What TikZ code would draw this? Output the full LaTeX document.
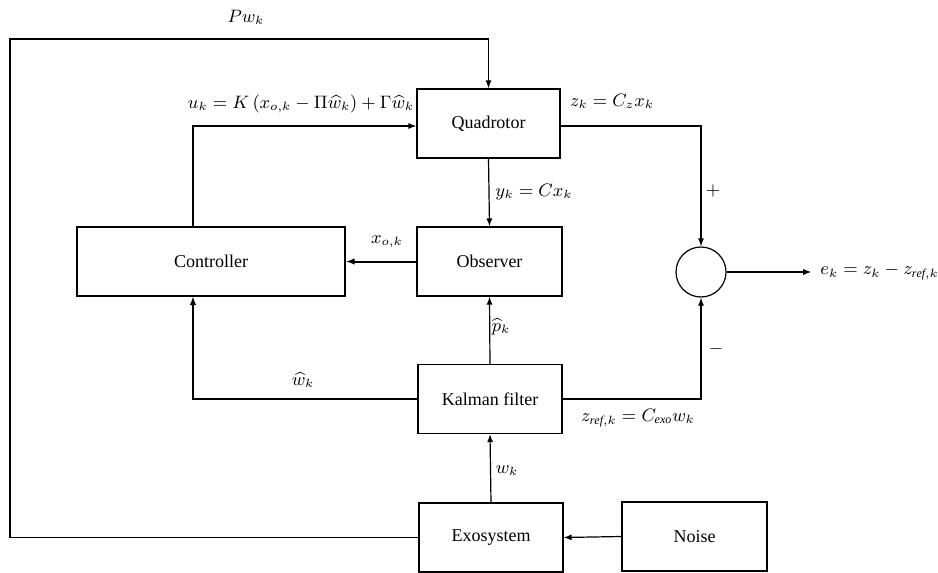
\documentclass[tikz,border=0pt]{standalone}
\usepackage{amsmath,amssymb}
\usepackage{fontspec}
\setmainfont{Liberation Serif}
\usetikzlibrary{positioning,arrows.meta,calc}

\begin{document}
\begin{tikzpicture}[
      x=0.5pt, y=-0.5pt,
      block/.style={draw, line width=0.6pt, minimum height=34.5pt, align=center, font=\small},
      lbl/.style={font=\small, inner sep=1pt},
      arr/.style={-{Latex[length=4pt, width=3pt]}, line width=0.6pt},
      tarr/.style={-{Latex[length=4.5pt, width=3.2pt]}, line width=1pt}
  ]
    \useasboundingbox (0,0) rectangle (938,573);

    % blocks
    \node[block, minimum width=71.5pt] (quad) at (488.5,123.5) {Quadrotor};
    \node[block, minimum width=72.5pt] (obs) at (489.5,261.5) {Observer};
    \node[block, minimum width=134pt] (ctrl) at (211,261.5) {Controller};
    \node[block, minimum width=72pt] (kal) at (490,399) {Kalman filter};
    \node[block, minimum width=72pt] (exo) at (491,537.5) {Exosystem};
    \node[block, minimum width=72.5pt] (noise) at (694.5,536.5) {Noise};
    \node[draw, circle, line width=0.6pt, minimum size=25pt, inner sep=0pt] (sum) at (701,272) {};

    \coordinate (pl) at (10,39);
    \coordinate (cx) at (193,126);
    \coordinate (cb) at (193,296);
    \coordinate (eout) at (812,272);

    % connectors
    \draw[arr] (exo.west) -| (pl) -| (quad.north);
    \draw[arr] (ctrl.north -| cx) |- (quad.west |- cx);
    \draw[arr] (quad.east |- cx) -| (sum.north);
    \draw[arr] (quad.south) -- (obs.north);
    \draw[tarr] (obs.west) -- (ctrl.east);
    \draw[arr] (kal.north) -- (obs.south);
    \draw[tarr] (kal.west) -| (cb);
    \draw[arr] (kal.east) -| (sum.south);
    \draw[arr] (exo.north) -- (kal.south);
    \draw[arr] (noise.west) -- (exo.east);
    \draw[tarr] (sum.east) -- (eout);

    % labels
    \node[lbl] (lpw) at (246,17) {$Pw_k$};
    \node[lbl] (lu) at (301,104) {$u_k = K\left(x_{o,k} - \Pi\widehat{w}_k\right) + \Gamma\widehat{w}_k$};
    \node[lbl] (lz) at (612,101) {$z_k = C_z x_k$};
    \node[lbl] (ly) at (534,192) {$y_k = Cx_k$};
    \node[lbl] (lplus) at (713,191) {$+$};
    \node[lbl] (lxo) at (387,242) {$x_{o,k}$};
    \node[lbl] (lp) at (501,327) {$\widehat{p}_k$};
    \node[lbl] (lw) at (303,380) {$\widehat{w}_k$};
    \node[lbl] (lzref) at (638,418) {$z_{\mathit{ref},k} = C_{\mathit{exo}} w_k$};
    \node[lbl] (lminus) at (716,349) {$-$};
    \node[lbl] (lwk) at (507,471) {$w_k$};
    \node[lbl, anchor=west] (le) at (818,272) {$e_k = z_k - z_{\mathit{ref},k}$};
\end{tikzpicture}
\end{document}
